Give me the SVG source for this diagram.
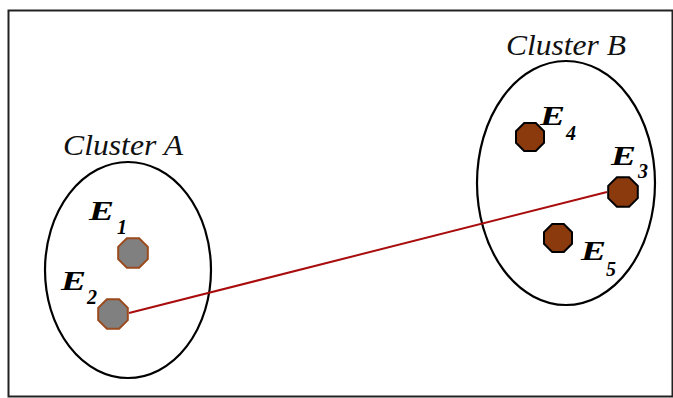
<svg xmlns="http://www.w3.org/2000/svg" width="673" height="398" viewBox="0 0 673 398">
<style>
.cl{fill:none;stroke:#000;stroke-width:2.2}
.ct{font-family:"Liberation Serif",serif;font-style:italic;font-size:30px;fill:#111}
.el{font-family:"Liberation Serif",serif;font-style:italic;font-weight:bold;font-size:28px;fill:#000}
.sub{font-family:"Liberation Serif",serif;font-style:italic;font-weight:bold;font-size:20px;fill:#000}
.gray{fill:#808080;stroke:#9a4a1c;stroke-width:2}
.brown{fill:#8b3a0e;stroke:#000;stroke-width:2}
</style>
<defs>
<polygon id="oct" points="14.8,6.1 6.1,14.8 -6.1,14.8 -14.8,6.1 -14.8,-6.1 -6.1,-14.8 6.1,-14.8 14.8,-6.1"/>
<polygon id="oct2" points="14,5.8 5.8,14 -5.8,14 -14,5.8 -14,-5.8 -5.8,-14 5.8,-14 14,-5.8"/>
</defs>
<rect x="0" y="0" width="673" height="398" fill="#fff"/>
<rect x="8.5" y="10.5" width="664" height="386" fill="none" stroke="#222" stroke-width="2"/>
<g id="clusterA">
<ellipse class="cl" cx="128" cy="270" rx="83" ry="108"/>
<text class="ct" x="63" y="155" textLength="120" lengthAdjust="spacingAndGlyphs">Cluster A</text>
</g>
<g id="clusterB">
<ellipse class="cl" cx="566" cy="183" rx="89" ry="122"/>
<text class="ct" x="506" y="55" textLength="120" lengthAdjust="spacingAndGlyphs">Cluster B</text>
</g>
<g id="connectors">
<line x1="129" y1="313" x2="607" y2="192" stroke="#a80c0c" stroke-width="2"/>
</g>
<g id="E1">
<use href="#oct" class="gray" transform="translate(133,253)"/>
<text class="el" x="89" y="220" textLength="25" lengthAdjust="spacingAndGlyphs">E</text><text class="sub" x="117" y="234">1</text>
</g>
<g id="E2">
<use href="#oct" class="gray" transform="translate(113,314)"/>
<text class="el" x="61" y="290" textLength="25" lengthAdjust="spacingAndGlyphs">E</text><text class="sub" x="87" y="304">2</text>
</g>
<g id="E3">
<use href="#oct" class="brown" transform="translate(623,192)"/>
<text class="el" x="611" y="165" textLength="25" lengthAdjust="spacingAndGlyphs">E</text><text class="sub" x="638" y="178">3</text>
</g>
<g id="E4">
<use href="#oct2" class="brown" transform="translate(530,137)"/>
<text class="el" x="540" y="125" textLength="25" lengthAdjust="spacingAndGlyphs">E</text><text class="sub" x="566" y="140">4</text>
</g>
<g id="E5">
<use href="#oct2" class="brown" transform="translate(558,238)"/>
<text class="el" x="581" y="260" textLength="25" lengthAdjust="spacingAndGlyphs">E</text><text class="sub" x="606" y="276">5</text>
</g>
</svg>
